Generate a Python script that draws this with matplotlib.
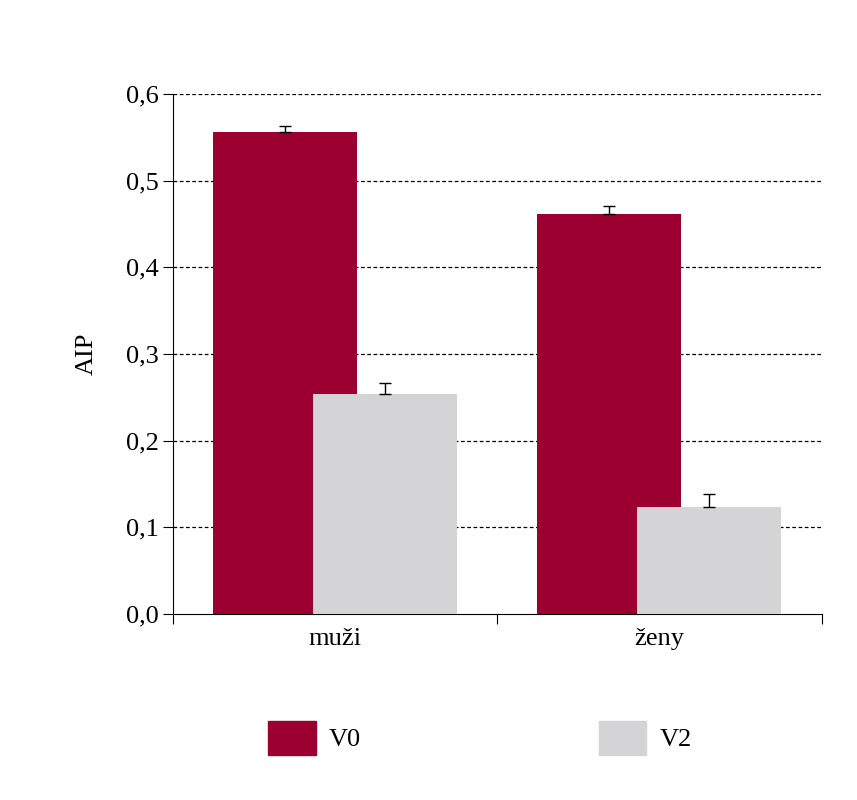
import matplotlib
matplotlib.use("Agg")
import matplotlib.pyplot as plt
from matplotlib.patches import Patch

categories = ["muži", "ženy"]
v0 = [0.556, 0.462]
v0_err = [0.007, 0.009]
v2 = [0.254, 0.124]
v2_err = [0.012, 0.015]
yticks = [0.0, 0.1, 0.2, 0.3, 0.4, 0.5, 0.6]

plt.rcParams['font.family'] = ['Liberation Serif', 'DejaVu Serif']
red, grey = '#9b0030', '#d4d4d6'

fig = plt.figure(figsize=(8.57, 8.0), dpi=100)
ax = fig.add_axes([0.202, 0.2325, 0.757, 0.65])
w = 0.444
for i in range(len(categories)):
    ax.bar(i + 0.123, v0[i], width=w, align='edge', color=red, zorder=2)
    ax.errorbar(i + 0.123 + w / 2, v0[i], yerr=[[0], [v0_err[i]]], color='black', capsize=4, lw=1, zorder=3)
    ax.bar(i + 0.431, v2[i], width=w, align='edge', color=grey, zorder=4)
    ax.errorbar(i + 0.431 + w / 2, v2[i], yerr=[[0], [v2_err[i]]], color='black', capsize=4, lw=1, zorder=5)

ax.set_xlim(0, 2)
ax.set_ylim(0, 0.6)
ax.set_yticks(yticks)
ax.set_yticklabels([f"{t:.1f}".replace('.', ',') for t in yticks], fontsize=19)
ax.set_xticks([0, 1, 2])
ax.set_xticklabels([])
ax.set_xticks([0.5, 1.5], minor=True)
ax.set_xticklabels(categories, minor=True, fontsize=19)
ax.tick_params(axis='x', which='minor', length=0, pad=10)
ax.tick_params(axis='x', which='major', length=7, direction='out')
ax.tick_params(axis='y', length=7, direction='out')
for t in yticks[1:]:
    ax.axhline(t, color='black', ls=(0, (3, 2)), lw=0.9, zorder=1)
for s in ['top', 'right']:
    ax.spines[s].set_visible(False)
ax.set_ylabel("AIP", fontsize=19, labelpad=20)

fig.legend(handles=[Patch(color=red, label='V0'), Patch(color=grey, label='V2')],
           loc='center', bbox_to_anchor=(0.56, 0.078), ncol=2, frameon=False,
           fontsize=19, handlelength=1.8, handleheight=1.6, columnspacing=9, handletextpad=0.5)
fig.savefig("out.png", dpi=100)
